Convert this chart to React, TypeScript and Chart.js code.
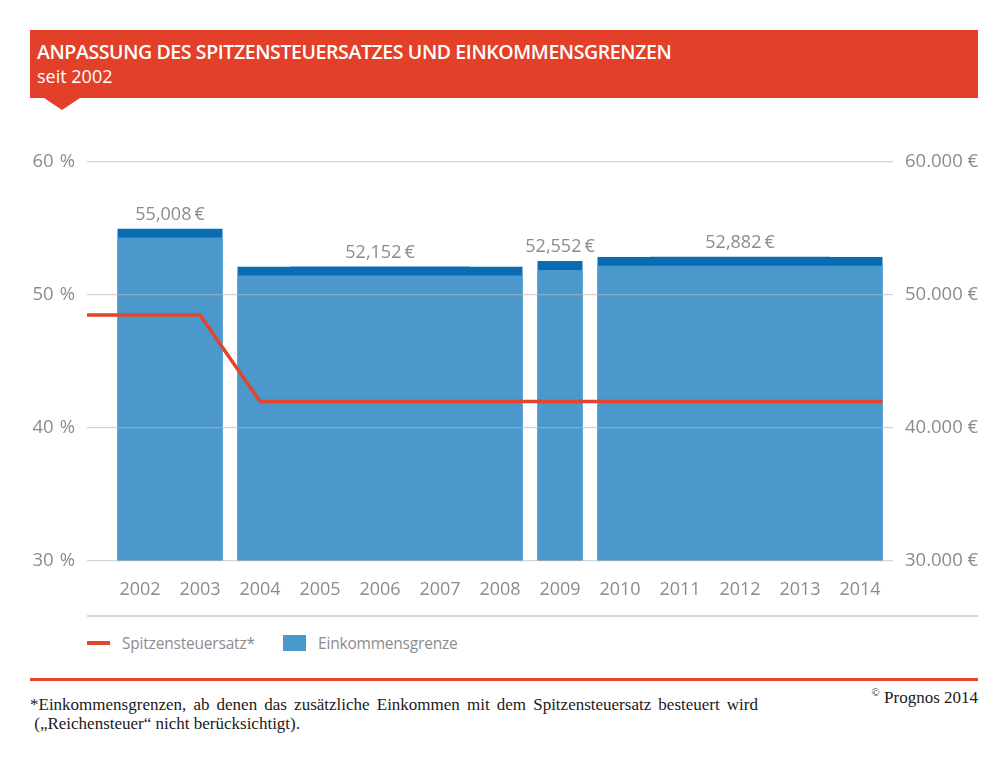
import React, { useEffect, useRef } from "react";
import { Chart, registerables } from "chart.js";

Chart.register(...registerables);

// ---- data ----
const years = [2002, 2003, 2004, 2005, 2006, 2007, 2008, 2009, 2010, 2011, 2012, 2013, 2014];
const groupStart = [2002, 2004, 2009, 2010];
const groupEnd = [2003, 2008, 2009, 2014];
const groupIncome = [55008, 52152, 52552, 52882];
const taxRate = [48.5, 48.5, 42, 42, 42, 42, 42, 42, 42, 42, 42, 42, 42];
const rateTicks = [30, 40, 50, 60];
const incomeTicks = [30000, 40000, 50000, 60000];

// ---- styles ----
const RED = "#e3402a";
const LINE_RED = "#e2452c";
const LIGHT_BLUE = "#4b98cd";
const DARK_BLUE = "#0a6db4";
const GRAY = "#8c8c8c";
const SANS = "'Open Sans', 'Noto Sans', sans-serif";
const SERIF = "'Liberation Serif', 'DejaVu Serif', serif";
const GAP_PX = 7.5;
const CAP_PX = 9;
const PLOT_W = 806;
const PX_PER_YEAR = 60;
const X_MIN = 2001.5 - 23 / PX_PER_YEAR;
const X_MAX = X_MIN + PLOT_W / PX_PER_YEAR;

const groupOf = (y: number) => groupStart.findIndex((s, i) => y >= s && y <= groupEnd[i]);
const incomeByYear = years.map((y) => groupIncome[groupOf(y)]);
const isGroupStart = (y: number) => groupStart.includes(y);
const isGroupEnd = (y: number) => groupEnd.includes(y);

const barBorder = (withCap: boolean) => (ctx: any) => {
  const y = years[ctx.dataIndex];
  return {
    top: withCap ? CAP_PX : 0,
    left: isGroupStart(y) ? GAP_PX : 0,
    right: isGroupEnd(y) ? GAP_PX : 0,
    bottom: 0,
  };
};

const valueLabels = {
  id: "valueLabels",
  afterDatasetsDraw(chart: any) {
    const { ctx } = chart;
    const xs = chart.scales.x;
    const ys = chart.scales.y2;
    ctx.save();
    ctx.fillStyle = GRAY;
    ctx.font = `18px ${SANS}`;
    ctx.textAlign = "center";
    ctx.textBaseline = "middle";
    groupIncome.forEach((v, i) => {
      const x = (xs.getPixelForValue(groupStart[i] - 0.5) + xs.getPixelForValue(groupEnd[i] + 0.5)) / 2;
      const y = ys.getPixelForValue(v) - 14;
      ctx.fillText(v.toLocaleString("en-US") + "\u2009€", x, y);
    });
    ctx.restore();
  },
};

const lineExtension = {
  id: "lineExtension",
  afterDatasetDraw(chart: any, args: any) {
    if (args.index !== 0) return;
    const pts = args.meta.data;
    const barMeta = chart.getDatasetMeta(1);
    const lastBar = barMeta.data[barMeta.data.length - 1];
    const rightEnd = lastBar.x + lastBar.width / 2 - GAP_PX;
    const { ctx, chartArea } = chart;
    ctx.save();
    ctx.strokeStyle = LINE_RED;
    ctx.lineWidth = 3.5;
    ctx.lineCap = "butt";
    ctx.beginPath();
    ctx.moveTo(chartArea.left, pts[0].y);
    ctx.lineTo(pts[0].x, pts[0].y);
    ctx.moveTo(pts[pts.length - 1].x, pts[pts.length - 1].y);
    ctx.lineTo(rightEnd, pts[pts.length - 1].y);
    ctx.stroke();
    ctx.restore();
  },
};

function ChartCanvas() {
  const ref = useRef<HTMLCanvasElement>(null);
  useEffect(() => {
    if (!ref.current) return;
    const barCommon = {
      type: "bar",
      data: years.map((y, i) => ({ x: y, y: incomeByYear[i] })),
      yAxisID: "y2",
      borderColor: "rgba(0,0,0,0)",
      borderSkipped: "start",
      grouped: false,
      barPercentage: 1,
      categoryPercentage: 1,
      inflateAmount: 0,
    };
    const chart = new Chart(ref.current, {
      type: "bar",
      data: {
        datasets: [
          {
            type: "line",
            label: "Spitzensteuersatz*",
            data: years.map((y, i) => ({ x: y, y: taxRate[i] })),
            yAxisID: "y",
            borderColor: LINE_RED,
            borderWidth: 3.5,
            pointRadius: 0,
            tension: 0,
            order: 0,
          } as any,
          {
            ...barCommon,
            label: "Einkommensgrenze",
            backgroundColor: LIGHT_BLUE,
            borderWidth: barBorder(true),
            order: 1,
          } as any,
          {
            ...barCommon,
            label: "cap",
            backgroundColor: DARK_BLUE,
            borderWidth: barBorder(false),
            order: 2,
          } as any,
        ],
      },
      options: {
        animation: false,
        responsive: false,
        maintainAspectRatio: false,
        layout: { padding: { top: 32, bottom: 0, left: 0, right: 0 } },
        plugins: { legend: { display: false }, tooltip: { enabled: false } },
        scales: {
          x: {
            type: "linear",
            offset: false,
            min: X_MIN,
            max: X_MAX,
            afterBuildTicks: (s: any) => {
              s.ticks = years.map((v) => ({ value: v }));
            },
            afterFit: (s: any) => {
              s.height = 49;
            },
            grid: { display: false, offset: false },
            border: { display: false },
            ticks: {
              color: GRAY,
              font: { family: SANS, size: 18 },
              padding: 10,
              maxRotation: 0,
              autoSkip: false,
              callback: (v: any) => String(v),
            },
          },
          y: {
            position: "left",
            min: 30,
            max: 60,
            afterBuildTicks: (s: any) => {
              s.ticks = rateTicks.map((v) => ({ value: v }));
            },
            afterFit: (s: any) => {
              s.width = 57;
            },
            grid: { color: "rgba(185,185,185,0.6)", lineWidth: 1.2, drawTicks: false, z: 1 },
            border: { display: false },
            ticks: {
              color: GRAY,
              font: { family: SANS, size: 18.5 },
              padding: 12,
              callback: (v: any) => v + "\u2009\u2009%",
            },
          },
          y2: {
            position: "right",
            min: 30000,
            max: 60000,
            afterBuildTicks: (s: any) => {
              s.ticks = incomeTicks.map((v) => ({ value: v }));
            },
            afterFit: (s: any) => {
              s.width = 85;
            },
            grid: { display: false, drawTicks: false },
            border: { display: false },
            ticks: {
              color: GRAY,
              font: { family: SANS, size: 18.5 },
              padding: 12,
              callback: (v: any) => Number(v).toLocaleString("de-DE") + " €",
            },
          },
        },
      } as any,
      plugins: [valueLabels, lineExtension],
    });
    return () => chart.destroy();
  }, []);
  return <canvas ref={ref} width={948} height={480} style={{ position: "absolute", left: 30, top: 130, width: 948, height: 480 }} />;
}

export default function App() {
  return (
    <div style={{ position: "absolute", left: 0, top: 0, width: 1007, height: 777, background: "#fff", overflow: "hidden", fontFamily: SANS }}>
      {/* header */}
      <div style={{ position: "absolute", left: 30, top: 30, width: 948, height: 68, background: RED }} />
      <div
        style={{
          position: "absolute",
          left: 44,
          top: 98,
          width: 0,
          height: 0,
          borderLeft: "18px solid transparent",
          borderRight: "18px solid transparent",
          borderTop: `12px solid ${RED}`,
        }}
      />
      <div style={{ position: "absolute", left: 37, top: 38, color: "#fff", fontSize: 19.5, fontWeight: 600, letterSpacing: -0.4, whiteSpace: "nowrap" }}>
        ANPASSUNG DES SPITZENSTEUERSATZES UND EINKOMMENSGRENZEN
      </div>
      <div style={{ position: "absolute", left: 37, top: 64, color: "#fff", fontSize: 18, whiteSpace: "nowrap" }}>seit 2002</div>

      <ChartCanvas />

      {/* legend */}
      <div style={{ position: "absolute", left: 87, top: 615, width: 891, height: 2, background: "#d6d6d6" }} />
      <div style={{ position: "absolute", left: 87, top: 641, width: 23, height: 4, background: LINE_RED }} />
      <div style={{ position: "absolute", left: 122, top: 632, color: GRAY, fontSize: 15.5, letterSpacing: -0.2, whiteSpace: "nowrap" }}>Spitzensteuersatz*</div>
      <div style={{ position: "absolute", left: 283, top: 635, width: 23, height: 16, background: LIGHT_BLUE }} />
      <div style={{ position: "absolute", left: 318, top: 632, color: GRAY, fontSize: 15.5, letterSpacing: -0.2, whiteSpace: "nowrap" }}>Einkommensgrenze</div>

      {/* footer */}
      <div style={{ position: "absolute", left: 30, top: 678, width: 948, height: 3, background: LINE_RED }} />
      <div
        style={{
          position: "absolute",
          left: 30,
          top: 695,
          width: 728,
          fontFamily: SERIF,
          fontSize: 17,
          lineHeight: "19px",
          color: "#1a1a1a",
        }}
      >
        <div style={{ textAlign: "justify", textAlignLast: "justify" } as any}>
          *Einkommensgrenzen, ab denen das zusätzliche Einkommen mit dem Spitzensteuersatz besteuert wird
        </div>
        <div>{"\u00a0(„Reichensteuer“ nicht berücksichtigt)."}</div>
      </div>
      <div style={{ position: "absolute", right: 29, top: 686, fontFamily: SERIF, fontSize: 17, color: "#1a1a1a", whiteSpace: "nowrap" }}>
        <sup style={{ fontSize: 11 }}>©</sup> Prognos 2014
      </div>
    </div>
  );
}
